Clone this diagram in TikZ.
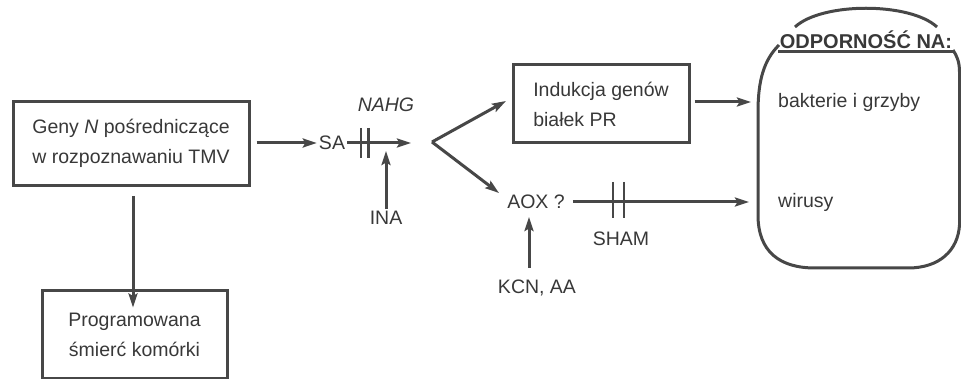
\documentclass[tikz,border=0pt]{standalone}
\usepackage{fontspec}
\setmainfont{Liberation Sans}
\usetikzlibrary{arrows.meta,calc}
\definecolor{ink}{HTML}{474747}
\definecolor{txt}{HTML}{383838}
\tikzset{
  ln/.style={draw=ink, line width=3pt},
  arr/.style={ln, -{Stealth[length=14pt,width=9pt,inset=2.5pt]}},
  box/.style={ln, rectangle, inner sep=0pt, text=txt, font=\fontsize{19.5}{30}\selectfont},
  lbl/.style={inner sep=2pt, text=txt, font=\fontsize{19.5}{30}\selectfont},
  barline/.style={draw=ink, line width=2.8pt}
}
\begin{document}
\begin{tikzpicture}[x=1pt,y=-1pt]
\useasboundingbox (0,0) rectangle (961,379);
% boxes
\node[box, minimum width=236pt, minimum height=84pt, align=center] (box1) at (131,143.5)
  {Geny \textit{N} pośredniczące\\w rozpoznawaniu TMV};
\node[box, minimum width=176pt, minimum height=78pt, align=left] (box2) at (601,104)
  {Indukcja genów\\białek PR};
\node[box, minimum width=185pt, minimum height=87pt, align=center] (box3) at (134.5,334.5)
  {Programowana\\śmierć komórki};
% labels
\node[lbl] (sa) at (332,143) {SA};
\node[lbl, font=\fontsize{19.5}{30}\selectfont\itshape] (nahg) at (386,105) {NAHG};
\node[lbl] (ina) at (386,218) {INA};
\node[lbl] (aox) at (536,202) {AOX ?};
\node[lbl] (sham) at (621,239) {SHAM};
\node[lbl] (kcn) at (537,288) {KCN, AA};
\node[lbl, anchor=west, inner sep=0pt] (bact) at (778,102) {bakterie i grzyby};
\node[lbl, anchor=west, inner sep=0pt] (wir) at (778,202) {wirusy};
\node[lbl, font=\fontsize{20}{30}\selectfont\bfseries] (head) at (866,40) {ODPORNOŚĆ NA:};
% coordinates
\coordinate (saend) at (411,143);
\coordinate (inatip) at (386,151);
\coordinate (v) at (432,142);
\coordinate (uptip) at (506,101);
\coordinate (lowtip) at (499,193);
\coordinate (k1) at (529,268);
\coordinate (k2) at (529,217);
% connectors
\draw[arr, shorten <=6pt] (box1.east |- sa) -- (sa.west);
\draw[arr] (sa.east) -- (saend);
\draw[barline] (361,128) -- (361,158);
\draw[barline] (368.5,128) -- (368.5,158);
\draw[arr] (ina.north) -- (inatip);
\draw[arr] (v) -- (uptip);
\draw[arr] (v) -- (lowtip);
\draw[arr, shorten <=4pt, shorten >=27pt] (box2.east |- bact) -- (bact.west);
\draw[arr, shorten <=6pt, shorten >=29pt] (aox.east) -- (wir.west);
\draw[barline] (613,182) -- (613,218);
\draw[barline] (624,182) -- (624,218);
\draw[arr] (k1) -- (k2);
\draw[arr] ($(box1.south)+(2,9)$) -- ($(box3.north)+(-1.5,18)$);
% resistance shape
\draw[ln] (778,52) -- (955,52);
\draw[ln] (795,27) .. controls (822,2) and (910,2) .. (937,27);
\draw[ln] (779,45) .. controls (764,60) and (758,80) .. (758,112) -- (758,215)
  .. controls (758,252) and (780,268) .. (815,268) -- (908,268)
  .. controls (940,268) and (958,250) .. (959.5,225) -- (959.5,72)
  .. controls (959.5,62) and (957,56) .. (953,50);
\end{tikzpicture}
\end{document}
